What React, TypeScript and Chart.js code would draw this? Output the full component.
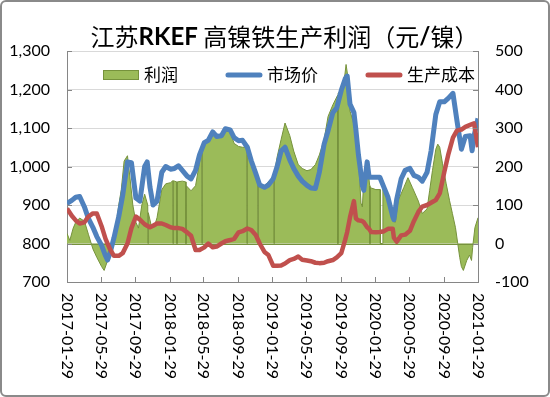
import React, { useEffect, useRef } from "react";
import { Chart, registerables } from "chart.js";

Chart.register(...registerables);

// ---------- data ----------
const lineDates = [
  "2017-01-29", "2017-02-15", "2017-03-01", "2017-03-15", "2017-04-01", "2017-04-15", "2017-05-01", "2017-05-15",
  "2017-06-01", "2017-06-15", "2017-06-22", "2017-07-01", "2017-07-15", "2017-08-01", "2017-08-15", "2017-09-01",
  "2017-09-15", "2017-10-01", "2017-10-15", "2017-11-01", "2017-11-10", "2017-11-20", "2017-12-01", "2017-12-15",
  "2018-01-01", "2018-01-15", "2018-02-01", "2018-02-15", "2018-03-01", "2018-03-15", "2018-04-01", "2018-04-15",
  "2018-05-01", "2018-05-15", "2018-06-01", "2018-06-15", "2018-07-01", "2018-07-15", "2018-08-01", "2018-08-15",
  "2018-09-01", "2018-09-15", "2018-10-01", "2018-10-15", "2018-11-01", "2018-11-15", "2018-12-01", "2018-12-15",
  "2019-01-01", "2019-01-15", "2019-02-01", "2019-02-15", "2019-03-01", "2019-03-15", "2019-04-01", "2019-04-15",
  "2019-05-01", "2019-05-15", "2019-06-01", "2019-06-15", "2019-07-01", "2019-07-15", "2019-08-01", "2019-08-15",
  "2019-09-01", "2019-09-15", "2019-10-01", "2019-10-15", "2019-10-22", "2019-11-01", "2019-11-15", "2019-11-22",
  "2019-12-01", "2019-12-10", "2019-12-15", "2019-12-20", "2020-01-01", "2020-01-08", "2020-01-15", "2020-02-01",
  "2020-02-15", "2020-03-01", "2020-03-15", "2020-04-01", "2020-04-05", "2020-04-15", "2020-05-01", "2020-05-15",
  "2020-06-01", "2020-06-15", "2020-07-01", "2020-07-15", "2020-08-01", "2020-08-15", "2020-09-01", "2020-09-15",
  "2020-10-01", "2020-10-15", "2020-11-01", "2020-11-15", "2020-12-01", "2020-12-15", "2021-01-01", "2021-01-08",
  "2021-01-15", "2021-01-29",
];

const priceValues = [
  904, 912, 920, 922, 895, 865, 842, 818,
  795, 768, 757, 775, 815, 870, 925, 1012,
  1010, 918, 910, 1000, 1012, 946, 900, 910,
  985, 1000, 993, 995, 1002, 990, 975, 968,
  990, 1030, 1062, 1068, 1090, 1078, 1080, 1098,
  1095, 1075, 1067, 1068, 1050, 1015, 982, 952,
  946, 952, 968, 1000, 1040, 1050, 1017, 995,
  975, 962, 951, 944, 943, 985, 1058, 1093,
  1140, 1152, 1198, 1228, 1235, 1162, 1140, 1095,
  1030, 981, 950, 938, 1012, 972, 972, 972,
  972, 945, 920, 870, 862, 915, 968, 990,
  995, 977, 972, 962, 985, 1040, 1135, 1168,
  1168, 1177, 1190, 1120, 1045, 1078, 1080, 1041,
  1080, 1125,
];

const costValues = [
  891, 872, 860, 852, 855, 870, 878, 878,
  845, 812, 800, 785, 768, 768, 775, 800,
  840, 870, 862, 850, 846, 842, 846, 852,
  852, 848, 842, 840, 840, 838, 829, 820,
  783, 783, 790, 800, 790, 792, 800, 806,
  809, 812, 829, 832, 839, 835, 822, 800,
  778, 770, 742, 742, 743, 748, 757, 760,
  766, 758, 756, 754, 750, 749, 750, 754,
  757, 764, 775, 810, 830, 868, 910, 865,
  860, 859, 858, 855, 842, 838, 830, 829,
  830, 832, 838, 838, 815, 805, 821, 823,
  833, 858, 882, 896, 900, 906, 913, 930,
  985, 1030, 1075, 1093, 1096, 1103, 1108, 1110,
  1112, 1050,
];

const profitDates = [
  "2017-01-29", "2017-02-08", "2017-02-20", "2017-03-01", "2017-03-15", "2017-04-01", "2017-04-15", "2017-05-01",
  "2017-05-15", "2017-06-01", "2017-06-10", "2017-06-22", "2017-07-01", "2017-07-15", "2017-08-01", "2017-08-10",
  "2017-08-20", "2017-09-01", "2017-09-10", "2017-09-20", "2017-10-01", "2017-10-10", "2017-10-22", "2017-11-01",
  "2017-11-12", "2017-11-13", "2017-11-14", "2017-11-25", "2017-12-08", "2017-12-15", "2018-01-01", "2018-01-15",
  "2018-02-01", "2018-02-09", "2018-02-10", "2018-02-11", "2018-02-23", "2018-02-24", "2018-02-25", "2018-03-15",
  "2018-03-27", "2018-03-28", "2018-03-29", "2018-04-15", "2018-05-01", "2018-05-15", "2018-05-23", "2018-05-24",
  "2018-05-25", "2018-06-15", "2018-07-01", "2018-07-15", "2018-08-01", "2018-08-15", "2018-09-01", "2018-09-15",
  "2018-10-01", "2018-10-15", "2018-10-30", "2018-10-31", "2018-11-01", "2018-11-15", "2018-12-01", "2018-12-08",
  "2018-12-09", "2018-12-10", "2018-12-20", "2019-01-01", "2019-01-15", "2019-02-03", "2019-02-04", "2019-02-05",
  "2019-02-15", "2019-03-01", "2019-03-15", "2019-04-01", "2019-04-15", "2019-05-01", "2019-05-15", "2019-06-01",
  "2019-06-15", "2019-07-01", "2019-07-15", "2019-08-01", "2019-08-15", "2019-09-01", "2019-09-18", "2019-09-19",
  "2019-09-20", "2019-10-01", "2019-10-14", "2019-10-18", "2019-10-25", "2019-11-01", "2019-11-15", "2019-12-01",
  "2019-12-10", "2019-12-15", "2019-12-20", "2020-01-01", "2020-01-10", "2020-01-11", "2020-01-12", "2020-02-01",
  "2020-02-16", "2020-02-17", "2020-02-25", "2020-02-26", "2020-03-15", "2020-04-01", "2020-04-10", "2020-04-20",
  "2020-05-10", "2020-05-25", "2020-06-10", "2020-07-01", "2020-07-15", "2020-08-01", "2020-08-10", "2020-08-20",
  "2020-09-01", "2020-09-08", "2020-09-15", "2020-09-25", "2020-10-08", "2020-10-20", "2020-10-30", "2020-11-10",
  "2020-11-18", "2020-11-25", "2020-12-01", "2020-12-08", "2020-12-20", "2020-12-30", "2021-01-06", "2021-01-10",
  "2021-01-18", "2021-01-29",
];

const profitValues = [
  26, 8, 40, 55, 66, 58, 24, -14,
  -36, -60, -70, -45, -25, 8, 100, 140,
  214, 228, 170, 100, 55, 40, 100, 128,
  100, 0, 80, 45, 50, 67, 140, 155,
  158, 163, 0, 163, 160, 0, 160, 162,
  160, 0, 150, 137, 150, 210, 245, 0,
  248, 270, 285, 280, 285, 292, 290, 260,
  252, 250, 250, 0, 230, 210, 180, 155,
  0, 150, 145, 150, 160, 175, 0, 180,
  225, 270, 313, 280, 240, 205, 195, 189,
  192, 205, 230, 270, 330, 360, 385, 0,
  390, 400, 440, 465, 430, 344, 310, 220,
  105, 95, 170, 214, 150, 0, 145, 140,
  140, 0, 0, 145, 111, 60, 55, 111,
  145, 171, 145, 110, 78, 90, 137, 189,
  245, 258, 250, 207, 155, 111, 78, 41,
  0, -36, -60, -70, -44, -30, -44, -10,
  41, 67,
];

const tickDates = [
  "2017-01-29", "2017-05-29", "2017-09-29", "2018-01-29", "2018-05-29", "2018-09-29", "2019-01-29",
  "2019-05-29", "2019-09-29", "2020-01-29", "2020-05-29", "2020-09-29", "2021-01-29",
];

const seriesNames = ["利润", "市场价", "生产成本"];
const titleParts: [string, boolean][] = [
  ["江苏", false],
  ["RKEF", true],
  [" 高镍铁生产利润（元", false],
  ["/", true],
  ["镍）", false],
];

// ---------- helpers ----------
const toDay = (s: string) => Date.parse(s + "T00:00:00Z") / 86400000;
const CJK = '"Noto Sans CJK SC"';
const NUM = 'Lato, "Noto Sans CJK SC", sans-serif';

const decorPlugin = {
  id: "decor",
  afterDatasetDraw(chart: any, args: any) {
    if (args.index !== 0) return;
    const { ctx, chartArea: ca, scales } = chart;
    const y0 = Math.round(scales.yR.getPixelForValue(0)) + 0.5;
    ctx.save();
    ctx.strokeStyle = "#76923C";
    ctx.lineWidth = 1;
    ctx.beginPath();
    ctx.moveTo(ca.left, y0);
    ctx.lineTo(ca.right, y0);
    ctx.stroke();
    ctx.restore();
  },
  afterDraw(chart: any) {
    const { ctx, chartArea: ca, scales } = chart;
    ctx.save();

    // inward tick marks
    ctx.strokeStyle = "#868686";
    ctx.lineWidth = 1;
    ctx.beginPath();
    scales.x.ticks.forEach((t: any) => {
      const px = Math.round(scales.x.getPixelForValue(t.value)) + 0.5;
      ctx.moveTo(px, ca.bottom - 5);
      ctx.lineTo(px, ca.bottom);
    });
    scales.y.ticks.forEach((t: any) => {
      const py = Math.round(scales.y.getPixelForValue(t.value)) + 0.5;
      ctx.moveTo(ca.left, py);
      ctx.lineTo(ca.left + 5, py);
    });
    scales.yR.ticks.forEach((t: any) => {
      const py = Math.round(scales.yR.getPixelForValue(t.value)) + 0.5;
      ctx.moveTo(ca.right - 5, py);
      ctx.lineTo(ca.right, py);
    });
    ctx.stroke();

    // x tick labels, rotated to read downward
    ctx.fillStyle = "#000";
    ctx.font = `16px ${NUM}`;
    ctx.textAlign = "left";
    ctx.textBaseline = "middle";
    tickDates.forEach((d) => {
      const px = scales.x.getPixelForValue(toDay(d));
      ctx.save();
      ctx.translate(px, ca.bottom + 11);
      ctx.rotate(Math.PI / 2);
      ctx.fillText(d, 0, 0);
      ctx.restore();
    });

    // legend inside plot area
    const ds = chart.data.datasets;
    let lx = ca.left + 36;
    const ly = ca.top + 24;
    ctx.font = `17px ${CJK}`;
    ds.forEach((d: any, i: number) => {
      const sw = 36;
      if (i === 0) {
        ctx.fillStyle = d.backgroundColor;
        ctx.fillRect(lx, ly - 5, sw, 10);
        ctx.strokeStyle = d.borderColor;
        ctx.lineWidth = 1;
        ctx.strokeRect(lx + 0.5, ly - 4.5, sw - 1, 9);
      } else {
        ctx.strokeStyle = d.borderColor;
        ctx.lineWidth = 5;
        ctx.lineCap = "round";
        ctx.beginPath();
        ctx.moveTo(lx + 2, ly);
        ctx.lineTo(lx + sw - 2, ly);
        ctx.stroke();
      }
      ctx.fillStyle = "#000";
      ctx.fillText(d.label, lx + sw + 5, ly);
      lx += sw + 5 + ctx.measureText(d.label).width + 48;
    });

    // title with mixed weights
    const fontFor = (b: boolean) => (b ? `bold 24px Lato, ${CJK}` : `24px ${CJK}`);
    let total = 0;
    titleParts.forEach(([s, b]) => {
      ctx.font = fontFor(b);
      total += ctx.measureText(s).width;
    });
    let tx = (ca.left + ca.right) / 2 + 12 - total / 2;
    ctx.textBaseline = "middle";
    ctx.fillStyle = "#000";
    titleParts.forEach(([s, b]) => {
      ctx.font = fontFor(b);
      ctx.fillText(s, tx, 37);
      tx += ctx.measureText(s).width;
    });

    ctx.restore();
  },
};

export default function App() {
  const ref = useRef<HTMLCanvasElement | null>(null);

  useEffect(() => {
    if (!ref.current) return;
    Chart.defaults.font.family = NUM;
    const chart = new Chart(ref.current, {
      type: "line",
      data: {
        datasets: [
          {
            label: seriesNames[0],
            data: profitDates.map((d, i) => ({ x: toDay(d), y: profitValues[i] })),
            yAxisID: "yR",
            fill: "origin",
            backgroundColor: "#9BBB59",
            borderColor: "#76923C",
            borderWidth: 1,
            pointRadius: 0,
            tension: 0,
            order: 3,
          },
          {
            label: seriesNames[1],
            data: lineDates.map((d, i) => ({ x: toDay(d), y: priceValues[i] })),
            yAxisID: "y",
            fill: false,
            borderColor: "#4F81BD",
            backgroundColor: "#4F81BD",
            borderWidth: 5,
            borderJoinStyle: "round",
            pointRadius: 0,
            tension: 0,
            order: 2,
          },
          {
            label: seriesNames[2],
            data: lineDates.map((d, i) => ({ x: toDay(d), y: costValues[i] })),
            yAxisID: "y",
            fill: false,
            borderColor: "#C0504D",
            backgroundColor: "#C0504D",
            borderWidth: 4.5,
            borderJoinStyle: "round",
            pointRadius: 0,
            tension: 0,
            order: 1,
          },
        ],
      },
      options: {
        responsive: false,
        animation: false,
        layout: { padding: { top: 51, left: 0, right: 0, bottom: 0 } },
        plugins: {
          legend: { display: false },
          title: { display: false },
          tooltip: { enabled: false },
        },
        scales: {
          x: {
            type: "linear",
            min: toDay(tickDates[0]),
            max: toDay(tickDates[tickDates.length - 1]),
            afterBuildTicks: (s: any) => {
              s.ticks = tickDates.map((d) => ({ value: toDay(d) }));
            },
            afterFit: (s: any) => {
              s.height = 115;
            },
            ticks: { display: false },
            grid: { display: true, drawOnChartArea: false, drawTicks: false },
            border: { display: true, color: "#868686", width: 1 },
          },
          y: {
            position: "left",
            min: 700,
            max: 1300,
            afterFit: (s: any) => {
              s.width = 67;
            },
            ticks: {
              stepSize: 100,
              padding: 17,
              color: "#000",
              font: { size: 16, family: NUM },
              callback: (v: any) => Number(v).toLocaleString("en-US"),
            },
            grid: { color: "#D9D9D9", drawTicks: false },
            border: { display: true, color: "#868686", width: 1 },
          },
          yR: {
            position: "right",
            min: -100,
            max: 500,
            afterFit: (s: any) => {
              s.width = 72;
            },
            ticks: {
              stepSize: 100,
              padding: 17,
              color: "#000",
              font: { size: 16, family: NUM },
            },
            grid: { drawOnChartArea: false, drawTicks: false },
            border: { display: true, color: "#868686", width: 1 },
          },
        },
      },
      plugins: [decorPlugin],
    });
    return () => chart.destroy();
  }, []);

  return (
    <div
      style={{
        position: "fixed",
        left: 0,
        top: 0,
        width: 550,
        height: 397,
        background: "#fff",
      }}
    >
      <canvas ref={ref} width={550} height={397} style={{ display: "block" }} />
      <div
        style={{
          position: "absolute",
          inset: 0,
          border: "2px solid #8a8a8a",
          borderRadius: 6,
          pointerEvents: "none",
        }}
      />
    </div>
  );
}
